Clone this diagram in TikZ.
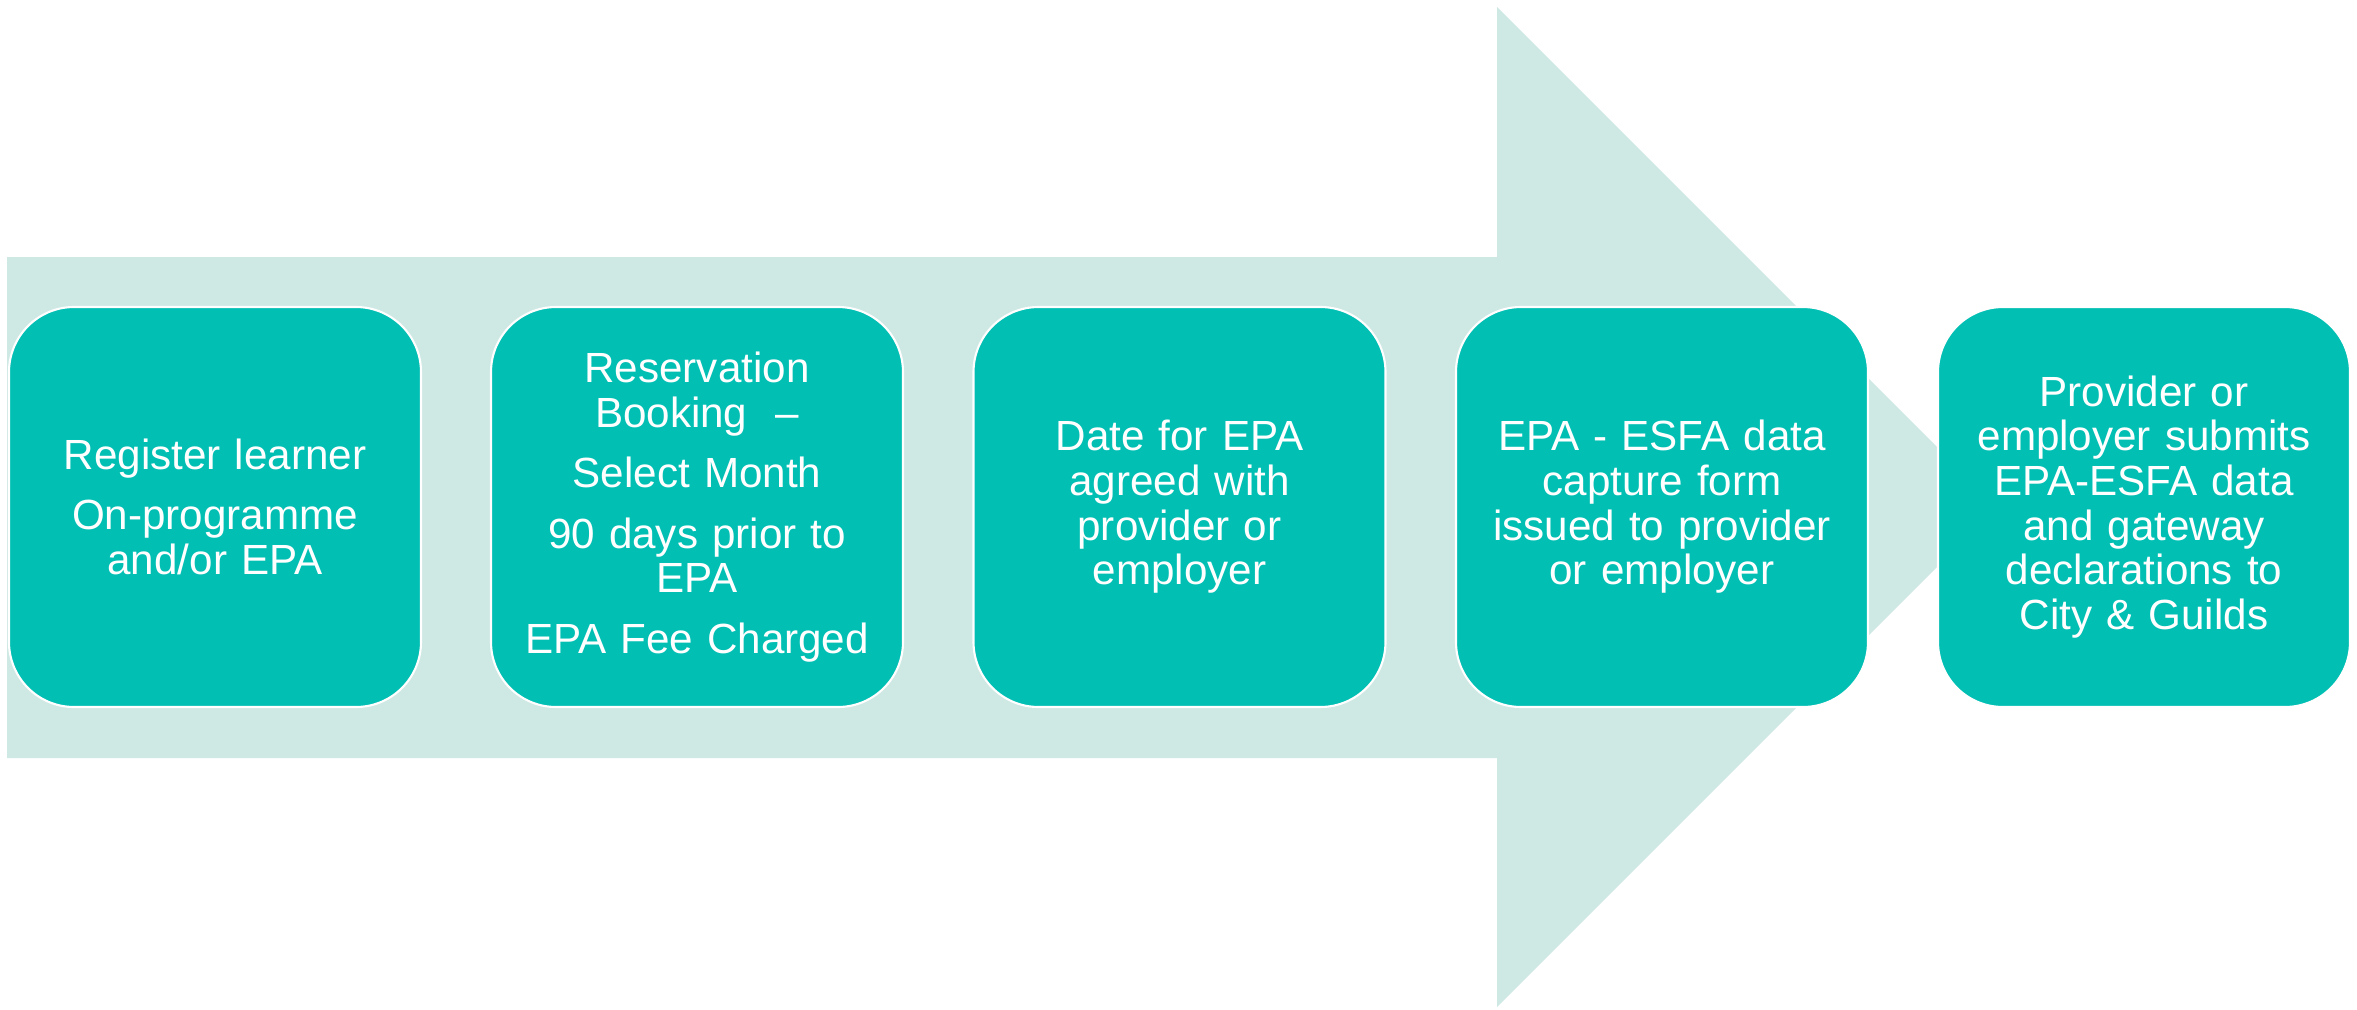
\documentclass[tikz,border=0pt]{standalone}
\usepackage{fontspec}
\setmainfont{Liberation Sans}
\usepackage{xcolor}
\definecolor{StageTeal}{RGB}{2, 191, 180}
\definecolor{ArrowMint}{RGB}{206, 232, 228}

\tikzset{
  stage/.style={draw=white, line width=0.6pt, fill=StageTeal, rounded corners=0.65cm,
    minimum width=4.12cm, minimum height=4cm, inner sep=0pt, text width=3.9cm,
    align=center, text=white, font=\fontsize{12}{12.7}\selectfont}
}

\begin{document}
\begin{tikzpicture}
            \useasboundingbox (0,0) rectangle (23.57,10.09);

            % Background arrow
            \fill[ArrowMint] (0.07,2.51) -- (14.97,2.51) -- (14.97,0.02) -- (19.97,5.02)
                -- (14.97,10.02) -- (14.97,7.52) -- (0.07,7.52) -- cycle;

            % Stages
            \node[stage] (reg) at (2.15,5.02) {Register learner\\[4.5pt] On-programme\\ and/or EPA};
            \node[stage] (resv) at (6.97,5.02) {Reservation\\ Booking~~--\\[4.5pt] Select Month\\[4.5pt] 90 days prior to\\ EPA\\[4.5pt] EPA Fee Charged};
            \node[stage] (date) at (11.795,5.02) {Date for EPA\\ agreed with\\ provider or\\ employer};
            \node[stage] (capture) at (16.62,5.02) {EPA - ESFA data\\ capture form\\ issued to provider\\ or employer};
            \node[stage] (submit) at (21.44,5.02) {Provider or\\ employer submits\\ EPA-ESFA data\\ and gateway\\ declarations to\\ City \& Guilds};
\end{tikzpicture}
\end{document}
